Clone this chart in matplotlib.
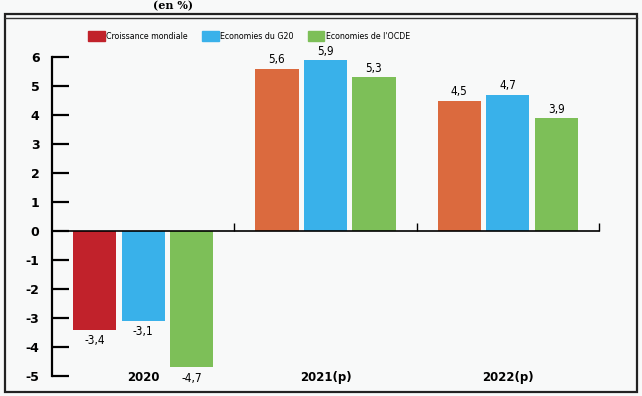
import matplotlib.pyplot as plt
import matplotlib.patches as mpatches
import numpy as np
from matplotlib.lines import Line2D
from matplotlib.font_manager import FontProperties

# --- Data ---
years = ["2020", "2021(p)", "2022(p)"]
series = ["Croissance mondiale", "Economies du G20", "Economies de l'OCDE"]
croissance = [-3.4, 5.6, 4.5]
g20 = [-3.1, 5.9, 4.7]
ocde = [-4.7, 5.3, 3.9]

# first series is dark red in 2020, orange in the forecast years
colors_first = ["#c1222b", "#db6a3e", "#db6a3e"]
color_blue = "#39b1ea"
color_green = "#7dbf58"

plt.rcParams['axes.unicode_minus'] = False

fig = plt.figure(figsize=(6.42, 3.96), dpi=100)
fig.patch.set_facecolor("#f8f9f9")

# --- frame around the chart ---
fig.add_artist(mpatches.Rectangle((5 / 642, 4 / 396), 632 / 642, 378 / 396,
                                  transform=fig.transFigure, fill=False,
                                  lw=1.6, ec="#222222"))
fig.add_artist(Line2D([5 / 642, 637 / 642], [378 / 396, 378 / 396],
                      transform=fig.transFigure, lw=1.0, color="#333333"))
fig.text(173 / 642, 1 - 6 / 396, "(en %)", ha="center", va="center", fontsize=8,
         fontweight="bold", family="DejaVu Serif")

ax = fig.add_axes([52 / 642, 20 / 396, 547 / 642, 319 / 396])
ax.set_facecolor("none")

x = np.arange(len(years)) + 0.5
w = 0.236
step = 0.266
bars1 = ax.bar(x - step, croissance, w, color=colors_first)
bars2 = ax.bar(x, g20, w, color=color_blue)
bars3 = ax.bar(x + step, ocde, w, color=color_green)

lab_font = FontProperties(family="DejaVu Sans", stretch="condensed", size=8.5)
for bars in (bars1, bars2, bars3):
    for b in bars:
        v = b.get_height()
        lbl = f"{v:.1f}".replace(".", ",")
        cx = b.get_x() + b.get_width() / 2
        if v >= 0:
            ax.text(cx, v + 0.08, lbl, ha="center", va="bottom", fontproperties=lab_font)
        else:
            ax.text(cx, v - 0.15, lbl, ha="center", va="top", fontproperties=lab_font)

ax.set_xlim(0, 3)
ax.set_ylim(-5, 6)

for s in ("top", "right"):
    ax.spines[s].set_visible(False)
ax.spines["left"].set_linewidth(1.6)
ax.spines["bottom"].set_position(("data", 0))
ax.spines["bottom"].set_linewidth(1.2)
ax.spines["bottom"].set_bounds(0, 3)

ax.set_yticks(range(-5, 7))
ax.tick_params(axis="y", direction="in", length=12, width=1.6, labelsize=9, pad=9)
ax.set_xticks([1, 2, 3])
ax.set_xticklabels([])
ax.tick_params(axis="x", direction="in", length=6, width=1)
for t in ax.get_yticklabels():
    t.set_fontweight("bold")

# year labels at the bottom
for i, yr in enumerate(years):
    ax.text(x[i], -5.05, yr, ha="center", va="center", fontsize=8.5,
            fontweight="bold")

# --- legend ---
handles = [mpatches.Patch(color=colors_first[0]),
           mpatches.Patch(color=color_blue),
           mpatches.Patch(color=color_green)]
leg_font = FontProperties(family="DejaVu Sans", stretch="condensed", size=6.3)
fig.legend(handles, series, loc="center left", bbox_to_anchor=(80 / 642, 1 - 36 / 396),
           ncol=3, frameon=False, prop=leg_font, handlelength=1.9, handleheight=1.5,
           handletextpad=0.2, columnspacing=1.6)

plt.savefig("out.png", dpi=100, facecolor=fig.get_facecolor())
